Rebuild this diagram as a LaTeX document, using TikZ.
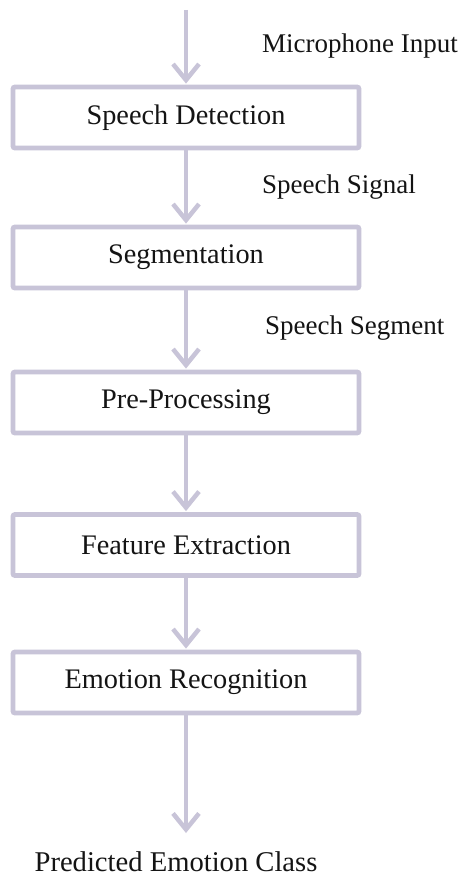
\documentclass[tikz,border=0pt]{standalone}
\usepackage{fontspec}
\setmainfont{Liberation Serif}
\usetikzlibrary{arrows.meta}
\definecolor{flowline}{RGB}{200,196,216}
\definecolor{flowtext}{RGB}{20,20,20}
\begin{document}
\begin{tikzpicture}[x=1pt,y=-1pt,
  stagebox/.style={draw=flowline, line width=4.8pt, rounded corners=2pt, fill=white,
    minimum width=346pt, minimum height=61pt, inner sep=0pt, text=flowtext,
    font=\fontsize{28.3}{31}\selectfont},
  lbl/.style={anchor=west, inner sep=0pt, text=flowtext, font=\fontsize{27}{30}\selectfont},
  flow/.style={draw=flowline, line width=4pt,
    -{Straight Barb[length=16pt, width=26pt, line width=4.5pt]}, shorten >=1pt}
]
\useasboundingbox (0,0) rectangle (472,877);
\fill[white] (0,0) rectangle (472,877);

\node[stagebox] (sd) at (186,117.5) {Speech Detection};
\node[stagebox] (sg) at (186,257.5) {Segmentation};
\node[stagebox] (pp) at (186,402.5) {Pre-Processing};
\node[stagebox] (fe) at (186,545) {Feature Extraction};
\node[stagebox] (er) at (186,682.5) {Emotion Recognition};

\coordinate (in) at (186,10);
\coordinate (out) at (186,834);

\node[lbl] (mic) at (262,46) {Microphone Input};
\node[lbl] (sig) at (262,187) {Speech Signal};
\node[lbl] (seg) at (265,328) {Speech Segment};
\node[anchor=base, inner sep=0pt, text=flowtext, font=\fontsize{28.6}{31}\selectfont] (cls) at (176,871) {Predicted Emotion Class};

\draw[flow] (in) -- (sd.north);
\draw[flow] (sd.south) -- (sg.north);
\draw[flow] (sg.south) -- (pp.north);
\draw[flow] (pp.south) -- (fe.north);
\draw[flow] (fe.south) -- (er.north);
\draw[flow] (er.south) -- (out);
\end{tikzpicture}
\end{document}
